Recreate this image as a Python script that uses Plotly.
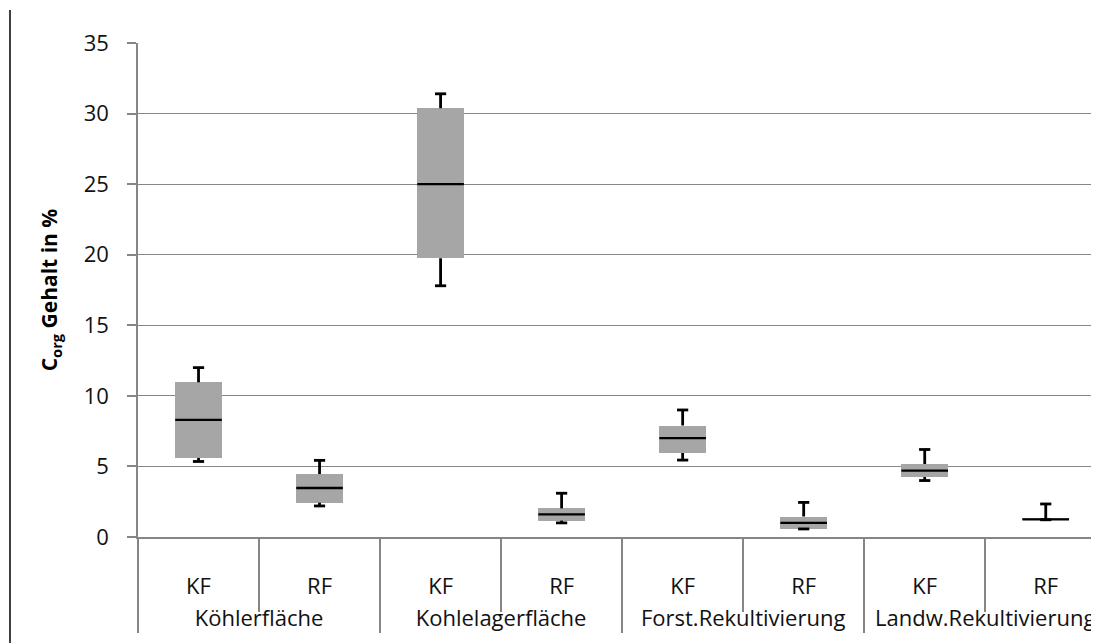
import plotly.graph_objects as go

groups = ["Köhlerfläche", "Köhlerfläche", "Kohlelagerfläche", "Kohlelagerfläche",
          "Forst.Rekultivierung", "Forst.Rekultivierung", "Landw.Rekultivierung", "Landw.Rekultivierung"]
sites = ["KF", "RF", "KF", "RF", "KF", "RF", "KF", "RF"]

whisker_low = [5.35, 2.2, 17.8, 1.0, 5.45, 0.57, 4.0, 1.22]
q1 = [5.6, 2.43, 19.75, 1.16, 5.95, 0.57, 4.25, 1.22]
median = [8.3, 3.47, 25.0, 1.6, 7.0, 1.0, 4.7, 1.25]
q3 = [10.96, 4.46, 30.38, 2.03, 7.9, 1.45, 5.17, 1.28]
whisker_high = [12.0, 5.43, 31.4, 3.1, 9.0, 2.45, 6.2, 2.34]

y_ticks = [0, 5, 10, 15, 20, 25, 30, 35]

# labels get an empty line above to push them down like the reference
site_labels = ["<br>" + s for s in sites]
group_labels = ["<br>" + g for g in groups]
x = [group_labels, site_labels]
gray = "#a6a6a6"
axis_gray = "#868686"
font_family = "Open Sans, Noto Sans, Liberation Sans, sans-serif"

fig = go.Figure()
fig.add_trace(go.Bar(
    x=x, base=q1, y=[m - a for m, a in zip(median, q1)],
    width=0.39, marker=dict(color=gray, line=dict(width=0)), showlegend=False))
fig.add_trace(go.Bar(
    x=x, base=median, y=[b - m for b, m in zip(q3, median)],
    width=0.39, marker=dict(color=gray, line=dict(width=0)), showlegend=False))
# upper whisker stems
fig.add_trace(go.Scatter(
    x=x, y=q3, mode="markers", marker=dict(size=1, opacity=0),
    error_y=dict(type="data", symmetric=False,
                 array=[h - b for h, b in zip(whisker_high, q3)],
                 arrayminus=[0] * 8, color="black", thickness=2.8, width=0),
    showlegend=False))
# lower whisker stems
fig.add_trace(go.Scatter(
    x=x, y=q1, mode="markers", marker=dict(size=1, opacity=0),
    error_y=dict(type="data", symmetric=False,
                 array=[0] * 8,
                 arrayminus=[a - l for a, l in zip(q1, whisker_low)],
                 color="black", thickness=2.8, width=0),
    showlegend=False))
# whisker caps
fig.add_trace(go.Scatter(
    x=[group_labels * 2, site_labels * 2], y=whisker_high + whisker_low, mode="markers",
    marker=dict(symbol="line-ew", size=8, line=dict(color="black", width=2.8)),
    showlegend=False))
# medians
fig.add_trace(go.Scatter(
    x=x, y=median, mode="markers",
    marker=dict(symbol="line-ew", size=33.3, line=dict(color="black", width=2.3)),
    showlegend=False))

# page body has an 8px margin, so the figure is 8px smaller than the window
fig.update_layout(
    width=1091, height=635,
    margin=dict(l=130, r=0, t=35, b=106, autoexpand=False),
    paper_bgcolor="white", plot_bgcolor="white",
    barmode="overlay", bargap=0,
    font=dict(family=font_family, color="black"),
    xaxis=dict(
        type="multicategory", range=[-0.5, 7.44], automargin=False,
        showgrid=False, showline=True, linecolor=axis_gray, linewidth=1.5,
        ticks="outside", tickson="boundaries", ticklen=73, tickcolor=axis_gray, tickwidth=1.5,
        showdividers=True, dividercolor=axis_gray, dividerwidth=1.5,
        tickfont=dict(size=22, color="#111"),
    ),
    yaxis=dict(
        range=[0, 35], tickvals=y_ticks, ticktext=[str(v) for v in y_ticks],
        automargin=False,
        showgrid=True, gridcolor=axis_gray, gridwidth=1.4,
        showline=True, linecolor=axis_gray, linewidth=1.5,
        ticks="outside", ticklen=9, tickcolor=axis_gray, tickwidth=1.5,
        ticklabelstandoff=14,
        tickfont=dict(size=22, color="#111"),
        zeroline=False,
        title=dict(text="<b>C<sub>org</sub> Gehalt in %</b>", font=dict(size=21), standoff=20),
    ),
    shapes=[dict(type="line", xref="paper", yref="paper",
                 x0=(2 - 130) / 961, x1=(2 - 130) / 961,
                 y0=(529 - 2) / 494, y1=(529 - 640) / 494,
                 line=dict(color="black", width=1.5))],
)

fig.write_html("out.html")
